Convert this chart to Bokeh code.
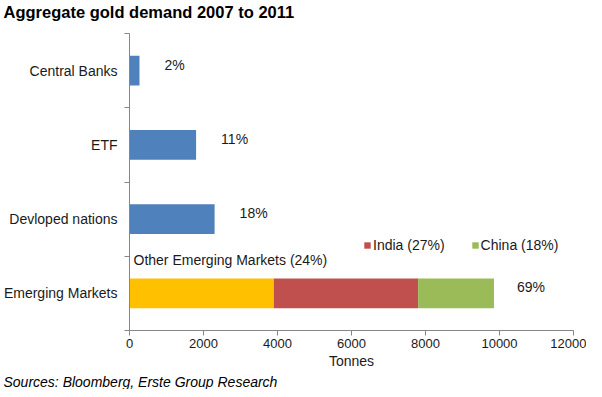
from bokeh.plotting import figure
from bokeh.models import (Label, Legend, LegendItem, FixedTicker, Title,
                          ColumnDataSource)
from bokeh.core.properties import value
from bokeh.embed import file_html
from bokeh.resources import INLINE

# ---- data ----
categories_top_to_bottom = ["Central Banks", "ETF", "Devloped nations", "Emerging Markets"]
blue_categories = ["Central Banks", "ETF", "Devloped nations"]
blue_values = [270, 1800, 2300]
blue_pct = ["2%", "11%", "18%"]
em_category = "Emerging Markets"
em_segments = ["Other Emerging Markets (24%)", "India (27%)", "China (18%)"]
em_values = [3900, 3900, 2050]
em_total_pct = "69%"
x_ticks = [0, 2000, 4000, 6000, 8000, 10000, 12000]

FONT = "Liberation Sans"
BLUE = "#4F81BD"
SEG_COLORS = ["#FFC000", "#C0504D", "#9BBB59"]
AXIS_GRAY = "#868686"
LEFT = 126

n = len(categories_top_to_bottom)
ypos = {c: n - 1 - i + 0.5 for i, c in enumerate(categories_top_to_bottom)}

p = figure(width=586, height=389, x_range=(0, 12000), y_range=(0, n),
           output_backend="svg", toolbar_location=None,
           min_border_left=LEFT, min_border_right=13, min_border_top=33,
           min_border_bottom=0)
p.outline_line_color = None
p.xgrid.visible = False
p.ygrid.visible = False
p.background_fill_color = "white"
p.border_fill_color = "white"

# blue bars
blue_src = ColumnDataSource(dict(y=[ypos[c] for c in blue_categories],
                                 right=blue_values, pct=blue_pct))
p.hbar(y="y", left=0, right="right", height=0.4, source=blue_src,
       fill_color=BLUE, line_color=None)
p.text(x="right", y="y", text="pct", source=blue_src, x_offset=25, y_offset=-6,
       text_align="left", text_baseline="middle", text_font=value(FONT),
       text_font_size="14px", text_color="#1a1a1a")

# stacked emerging markets bar
lefts = []
acc = 0
for v in em_values:
    lefts.append(acc)
    acc += v
seg_renderers = []
for name, lft, v, col in zip(em_segments, lefts, em_values, SEG_COLORS):
    r = p.hbar(y=[ypos[em_category]], left=[lft], right=[lft + v], height=0.4,
               fill_color=col, line_color=None)
    seg_renderers.append(r)
p.text(x=[acc], y=[ypos[em_category]], text=[em_total_pct], x_offset=23, y_offset=-6,
       text_align="left", text_baseline="middle", text_font=value(FONT),
       text_font_size="14px", text_color="#1a1a1a")

# legend (India, China)
legend = Legend(items=[LegendItem(label=em_segments[1], renderers=[seg_renderers[1]]),
                       LegendItem(label=em_segments[2], renderers=[seg_renderers[2]])],
                orientation="horizontal", location=(234, 77),
                glyph_width=8, glyph_height=8, label_standoff=2, spacing=26,
                padding=0, margin=0, border_line_color=None,
                background_fill_alpha=0, label_text_font=FONT,
                label_text_font_size="14px", label_height=14,
                label_text_color="#1a1a1a")
p.add_layout(legend)

p.add_layout(Label(x=4, y=71, x_units="screen", y_units="screen",
                   text=em_segments[0], text_font=FONT, text_font_size="14px",
                   text_baseline="middle", text_color="#1a1a1a"))

# axes
xa = p.xaxis[0]
xa.ticker = FixedTicker(ticks=x_ticks, minor_ticks=[])
xa.axis_line_color = AXIS_GRAY
xa.major_tick_line_color = AXIS_GRAY
xa.major_tick_out = 5
xa.major_tick_in = 0
xa.minor_tick_line_color = None
xa.major_label_text_font = FONT
xa.major_label_text_font_size = "13px"
xa.major_label_text_color = "#1a1a1a"
xa.major_label_standoff = 3
xa.axis_label = "Tonnes"
xa.axis_label_text_font = FONT
xa.axis_label_text_font_size = "14px"
xa.axis_label_text_font_style = "normal"
xa.axis_label_text_color = "#1a1a1a"
xa.axis_label_standoff = 2

ya = p.yaxis[0]
ya.ticker = FixedTicker(ticks=[ypos[c] for c in categories_top_to_bottom],
                        minor_ticks=list(range(n + 1)))
ya.major_label_overrides = {ypos[c]: c for c in categories_top_to_bottom}
ya.axis_line_color = AXIS_GRAY
ya.major_tick_line_color = None
ya.major_tick_out = 0
ya.major_tick_in = 0
ya.minor_tick_line_color = AXIS_GRAY
ya.minor_tick_out = 5
ya.minor_tick_in = 0
ya.major_label_text_font = FONT
ya.major_label_text_font_size = "14px"
ya.major_label_text_color = "#1a1a1a"
ya.major_label_standoff = 7

# title (with a blank spacer panel below it) & source
p.add_layout(Title(text=" ", text_font_size="8px", standoff=0), "above")
p.add_layout(Title(text="Aggregate gold demand 2007 to 2011", align="left",
                   offset=-LEFT, text_font=FONT, text_font_size="16.5px",
                   text_font_style="bold", text_color="#000000", standoff=0,
                   vertical_align="top"),
             "above")
p.add_layout(Title(text="Sources: Bloomberg, Erste Group Research", align="left",
                   offset=-LEFT, text_font=FONT, text_font_size="14px",
                   text_font_style="italic", text_color="#000000", standoff=0,
                   vertical_align="bottom"),
             "below")

open("out.html", "w").write(file_html(p, INLINE))
